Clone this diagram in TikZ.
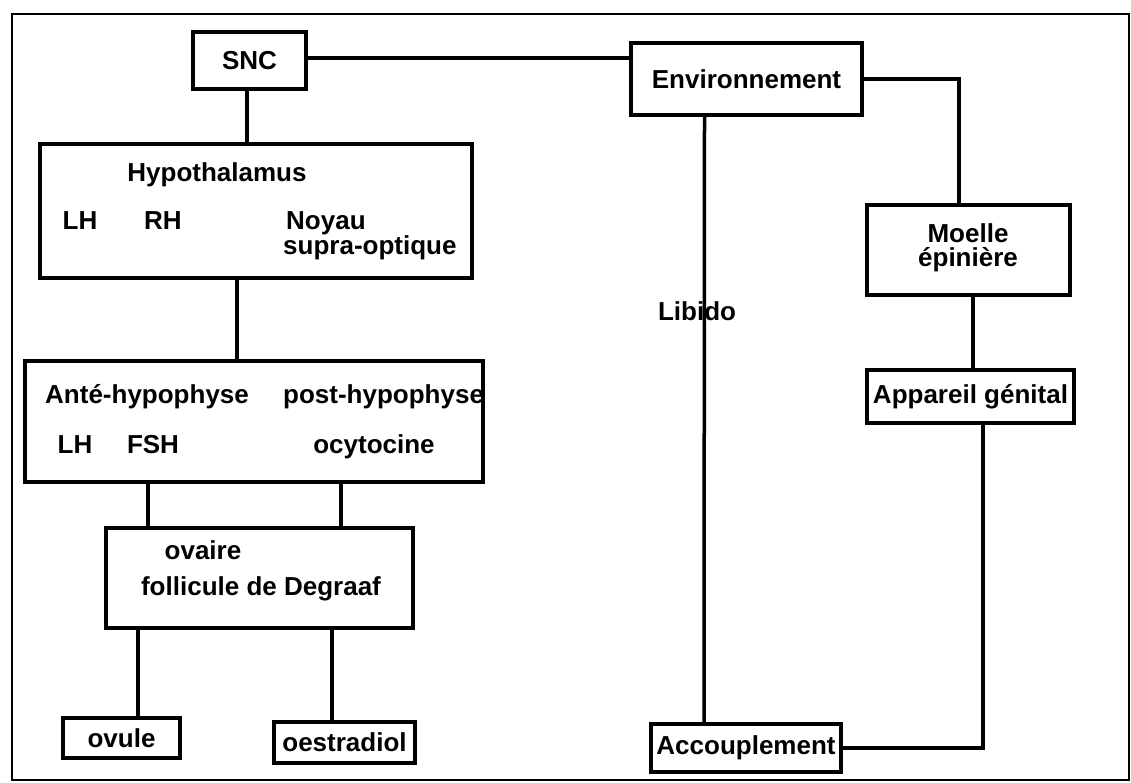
\documentclass[tikz,border=0pt]{standalone}
\usepackage{fontspec}
\setmainfont{Liberation Sans}
\begin{document}
\begin{tikzpicture}[x=1pt,y=-1pt,
  box/.style={draw=black,line width=3.5pt,fill=white,inner sep=0pt,align=center,font=\fontsize{26}{27}\selectfont\bfseries},
  txt/.style={inner sep=0pt,anchor=base,font=\fontsize{26}{27}\selectfont\bfseries},
  link/.style={draw=black,line width=3.5pt},
  frame/.style={draw=black,line width=2.2pt}]
\useasboundingbox (0,0) rectangle (1131,783);
\draw[frame] (12,14) rectangle (1129,780);
% boxes
\node[box,minimum width=113pt,minimum height=57pt] (snc) at (249.5,60.5) {SNC};
\node[box,minimum width=231pt,minimum height=72pt] (env) at (746.5,79) {Environnement};
\node[box,minimum width=203pt,minimum height=90pt] (moelle) at (968.5,250) {};
\node[box,minimum width=207pt,minimum height=53pt] (app) at (970.5,396.5) {Appareil génital};
\node[box,minimum width=190pt,minimum height=48pt] (acc) at (746,748) {Accouplement};
\node[box,minimum width=432pt,minimum height=134pt] (hypo) at (256,211) {};
\node[box,minimum width=458pt,minimum height=121pt] (hypoph) at (254,421.5) {};
\node[box,minimum width=307pt,minimum height=100pt] (ovaire) at (259.5,578) {};
\node[box,minimum width=117pt,minimum height=40pt] (ovule) at (121.5,738) {ovule};
\node[box,minimum width=141pt,minimum height=41pt] (oestr) at (344.5,742.5) {oestradiol};
% texts inside boxes
\node[txt] (tmoe) at (968,243) {Moelle};
\node[txt] (tepi) at (968,267) {épinière};
\node[txt] (thypo) at (217,182) {Hypothalamus};
\node[txt] (tlh1) at (80,230) {LH};
\node[txt] (trh) at (163,230) {RH};
\node[txt,anchor=base west] (tnoy) at (286,230) {Noyau};
\node[txt,anchor=base west] (tsup) at (283,255) {supra-optique};
\node[txt,anchor=base west] (tante) at (45,403) {Anté-hypophyse};
\node[txt,anchor=base west] (tpost) at (283,403) {post-hypophyse};
\node[txt] (tlh2) at (75,453) {LH};
\node[txt] (tfsh) at (153,453) {FSH};
\node[txt] (tocy) at (374,453) {ocytocine};
\node[txt] (tova) at (203,559) {ovaire};
\node[txt] (tfol) at (261,595) {follicule de Degraaf};
\node[txt] (tlib) at (697,320) {Libido};
% connectors
\draw[link] (snc.east |- 0,58) -- (env.west |- 0,58);
\draw[link] (env.east) -| ([xshift=-9.5pt]moelle.north);
\draw[link] ([xshift=-42pt]env.south) -- ([xshift=-42pt]acc.north);
\draw[link] ([xshift=4.5pt]moelle.south) -- ([xshift=2.5pt]app.north);
\draw[link] ([xshift=12.5pt]app.south) |- (acc.east);
\draw[link] ([xshift=-2.5pt]snc.south) -- ([xshift=-9pt]hypo.north);
\draw[link] ([xshift=-19pt]hypo.south) -- ([xshift=-17pt]hypoph.north);
\draw[link] ([xshift=-106pt]hypoph.south) -- ([xshift=-111.5pt]ovaire.north);
\draw[link] ([xshift=87pt]hypoph.south) -- ([xshift=81.5pt]ovaire.north);
\draw[link] ([xshift=-121.5pt]ovaire.south) -- ([xshift=16.5pt]ovule.north);
\draw[link] ([xshift=72.5pt]ovaire.south) -- ([xshift=-12.5pt]oestr.north);
\end{tikzpicture}
\end{document}
